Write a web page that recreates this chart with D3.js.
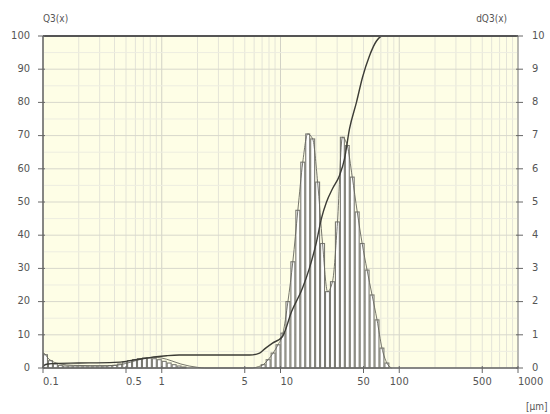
<!DOCTYPE html>
<html><head><meta charset="utf-8">
<script src="https://cdn.jsdelivr.net/npm/d3@7/dist/d3.min.js"></script>
<style>body{margin:0;background:#fff}svg{display:block}text{font-family:"DejaVu Sans Condensed","Liberation Sans Narrow",sans-serif}</style>
</head><body>
<script>
// Histogram bin edges (µm), contiguous
const binEdges = [0.1,0.1101,0.1212,0.1334,0.1468,0.1616,0.1778,0.1957,0.2154,0.2371,0.2610,0.2873,0.3162,0.3481,0.3831,0.4217,0.4642,0.5109,0.5623,0.6190,0.6813,0.7499,0.8254,0.9085,1,
1.1007,1.2115,1.3335,1.4678,1.6156,1.7783,1.9574,2.1544,2.3714,2.6102,2.8730,3.1623,3.4807,3.8312,4.2170,4.6416,5.1090,5.6234,6.1897,6.8129,7.4989,8.2540,9.0852,10,
11.007,12.115,13.335,14.678,16.156,17.783,19.574,21.544,23.714,26.102,28.730,31.623,34.807,38.312,42.170,46.416,51.090,56.234,61.897,68.129,74.989,82.540];
// dQ3 per bin (%)
const dQ3 = [0.4,0.22,0.12,0.08,0.06,0.06,0.06,0.06,0.06,0.06,0.06,0.06,0.06,0.07,0.08,0.12,0.18,0.22,0.25,0.28,0.3,0.3,0.28,0.25,0.2,0.15,0.1,0.06,0.03,
0,0,0,0,0,0,0,0,0,0,0,0,0,0,0,
0.1,0.25,0.45,0.7,1.05,2.0,3.2,4.75,6.2,7.05,6.9,5.6,3.75,2.3,2.6,4.4,6.95,6.7,5.75,4.7,3.75,2.95,2.2,1.45,0.6,0.15];
// density curve
const densSize = [0.1,0.104,0.11,0.12,0.14,0.18,0.25,0.35,0.45,0.55,0.7,0.85,1.0,1.2,1.45,1.7,2.0,2.3,5.8,6.5,7.15,7.87,8.66,9.53,10.5,11.55,12.7,14.0,15.4,16.95,18.66,20.54,22.6,24.9,27.4,30.2,33.2,36.5,40.2,44.3,48.7,53.6,59.0,65.0,71.5,78.7,86];
const densVal = [0.45,0.42,0.3,0.2,0.12,0.08,0.07,0.07,0.1,0.18,0.28,0.32,0.3,0.22,0.12,0.06,0.02,0,0,0.04,0.1,0.25,0.45,0.7,1.05,2.0,3.2,4.75,6.2,7.05,6.9,5.6,3.75,2.3,2.6,4.4,6.95,6.7,5.75,4.7,3.75,2.95,2.2,1.45,0.6,0.15,0];
// cumulative Q3
const cumSize = [0.1,0.102,0.11,0.13,0.2,0.4,0.5,0.6,0.75,0.9,1.1,1.4,1.8,5.5,6.66,7.5,8.57,10.4,12.4,15.3,17.5,20.1,22.1,24.4,27.4,31.4,34.6,38.1,43.6,49.0,56.1,64.3,72.3,80,1000];
const cumVal = [0,0.8,1.2,1.4,1.5,1.7,2.0,2.5,3.0,3.4,3.7,3.9,3.9,3.9,4.5,6,7.5,9.5,17,24,30,38,45,50,54,58,63,72,80,87.5,94,98.5,100,100,100];
// ticks
const xTickVals = [0.1,0.5,1,5,10,50,100,500,1000];
const xTickLabels = ["0.1","0.5","1","5","10","50","100","500","1000"];
const yLeftTicks = [0,10,20,30,40,50,60,70,80,90,100];
const yRightTicks = [0,1,2,3,4,5,6,7,8,9,10];

const W=550,H=414, L=43, R=518, T=36, B=368;
const svg = d3.select("body").append("svg").attr("width",W).attr("height",H);
const x = d3.scaleLog().domain([0.1,1000]).range([L,R]);
const yL = d3.scaleLinear().domain([0,100]).range([B,T]);
const yR = d3.scaleLinear().domain([0,10]).range([B,T]);

svg.append("rect").attr("x",L).attr("y",T).attr("width",R-L).attr("height",B-T).attr("fill","#fefee6");

// grid
const g = svg.append("g");
x.ticks().forEach(v=>{
  const major = Math.abs(Math.log10(v)-Math.round(Math.log10(v)))<1e-6;
  g.append("line").attr("x1",x(v)).attr("x2",x(v)).attr("y1",T).attr("y2",B)
   .attr("stroke", major?"#d2d2c6":"#e4e4d8").attr("stroke-width",1);
});
d3.range(0,101,5).forEach(v=>{
  g.append("line").attr("x1",L).attr("x2",R).attr("y1",yL(v)).attr("y2",yL(v))
   .attr("stroke", v%10===0?"#d8d8cc":"#ededE0").attr("stroke-width",1);
});

// bars
const bins = dQ3.map((v,i)=>({lo:binEdges[i],hi:binEdges[i+1],v}));
svg.append("g").selectAll("rect").data(bins.filter(d=>d.v>0)).join("rect")
  .attr("x",d=>x(d.lo)+0.5).attr("width",d=>Math.max(1,x(d.hi)-x(d.lo)-1))
  .attr("y",d=>yR(d.v)).attr("height",d=>yR(0)-yR(d.v))
  .attr("fill","#ffffff").attr("stroke","#7a7a72").attr("stroke-width",1.1);

// density curve
const dline = d3.line().x(d=>x(d[0])).y(d=>yR(d[1])).curve(d3.curveMonotoneX);
svg.append("path").attr("d",dline(densSize.map((s,i)=>[s,densVal[i]])))
  .attr("fill","none").attr("stroke","#66665e").attr("stroke-width",0.9);

// cumulative
const cline = d3.line().x(d=>x(d[0])).y(d=>yL(d[1])).curve(d3.curveMonotoneX);
svg.append("path").attr("d",cline(cumSize.map((s,i)=>[s,cumVal[i]])))
  .attr("fill","none").attr("stroke","#3c3c36").attr("stroke-width",1.4);

// axes lines
svg.append("line").attr("x1",L).attr("x2",R).attr("y1",T).attr("y2",T).attr("stroke","#555").attr("stroke-width",2);
svg.append("line").attr("x1",L).attr("x2",R).attr("y1",B).attr("y2",B).attr("stroke","#666").attr("stroke-width",1.5);
svg.append("line").attr("x1",L).attr("x2",L).attr("y1",T).attr("y2",B).attr("stroke","#666").attr("stroke-width",1.5);
svg.append("line").attr("x1",R).attr("x2",R).attr("y1",T).attr("y2",B).attr("stroke","#888").attr("stroke-width",1);

const tc = "#666";
yLeftTicks.forEach(v=>{
  svg.append("line").attr("x1",L-5).attr("x2",L+2).attr("y1",yL(v)).attr("y2",yL(v)).attr("stroke",tc);
  svg.append("text").attr("x",L-13).attr("y",yL(v)-1).attr("dy","0.35em").attr("text-anchor","end")
    .attr("font-size",11).attr("fill","#555").text(v);
});
yRightTicks.forEach(v=>{
  svg.append("line").attr("x1",R-2).attr("x2",R+5).attr("y1",yR(v)).attr("y2",yR(v)).attr("stroke",tc);
  svg.append("text").attr("x",R+14).attr("y",yR(v)-1).attr("dy","0.35em").attr("text-anchor","start")
    .attr("font-size",11).attr("fill","#555").text(v);
});
const startLabels = new Set(["0.1","0.5","10","1000"]);
xTickVals.forEach((v,i)=>{
  svg.append("line").attr("x1",x(v)).attr("x2",x(v)).attr("y1",B-2).attr("y2",B+5).attr("stroke",tc);
  const lab = xTickLabels[i];
  svg.append("text").attr("x",x(v)).attr("y",B+17)
    .attr("text-anchor",startLabels.has(lab)?"start":"middle")
    .attr("font-size",11).attr("fill","#555").text(lab);
});
svg.append("text").attr("x",L).attr("y",22).attr("font-size",10).attr("fill","#555").text("Q3(x)");
svg.append("text").attr("x",507).attr("y",22).attr("text-anchor","end").attr("font-size",10).attr("fill","#555").text("dQ3(x)");
svg.append("text").attr("x",526).attr("y",410).attr("font-size",10).attr("fill","#555").text("[µm]");
</script>
</body></html>
